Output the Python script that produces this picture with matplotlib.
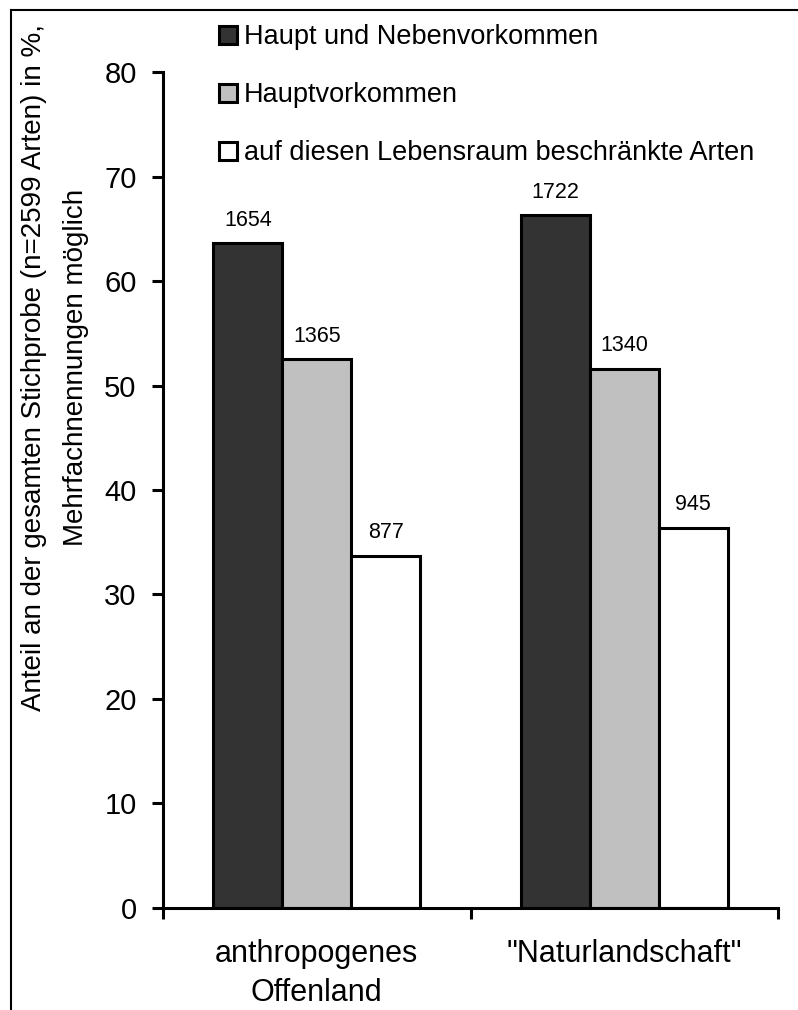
import matplotlib.pyplot as plt
import numpy as np
from matplotlib.lines import Line2D

plt.rcParams["font.family"] = ["Liberation Sans", "DejaVu Sans"]

categories = ["anthropogenes\nOffenland", '"Naturlandschaft"']
series_names = [
    "Haupt und Nebenvorkommen",
    "Hauptvorkommen",
    "auf diesen Lebensraum beschränkte Arten",
]
# percent of total sample (n=2599)
percent = [
    [63.6, 66.3],
    [52.5, 51.6],
    [33.7, 36.4],
]
counts = [
    [1654, 1722],
    [1365, 1340],
    [877, 945],
]
colors = ["#333333", "#c0c0c0", "#ffffff"]

fig = plt.figure(figsize=(7.98, 10.10), dpi=100)
ax = fig.add_axes([0.2043, 0.1010, 0.7706, 0.8277])

x = np.arange(len(categories)) + 0.5
width = 0.224
bars = []
for i, (vals, cnts) in enumerate(zip(percent, counts)):
    pos = x + (i - 1) * width
    b = ax.bar(pos, vals, width, color=colors[i], edgecolor="black",
               linewidth=2.2, label=series_names[i], zorder=2)
    bars.append(b)
    for xp, v, c in zip(pos, vals, cnts):
        ax.annotate(str(c), (xp, v), xytext=(0, 9), textcoords="offset points",
                    ha="center", va="bottom", fontsize=15.5)

ax.set_xlim(0, 2)
ax.set_ylim(0, 80)
ax.set_yticks(np.arange(0, 81, 10))
ax.set_xticks([0, 1, 2], minor=False)
ax.set_xticklabels([])
ax.set_xticks(x, minor=True)
ax.set_xticklabels(categories, minor=True, fontsize=22, linespacing=1.4)
ax.tick_params(axis="x", which="minor", length=0, pad=22)
ax.tick_params(axis="x", which="major", length=8, width=2.2, direction="out")
ax.tick_params(axis="y", length=8, width=2.2, direction="out", labelsize=21, pad=11)
for s in ["top", "right"]:
    ax.spines[s].set_visible(False)
for s in ["left", "bottom"]:
    ax.spines[s].set_linewidth(2.2)

fig.text(0.069, 0.636,
         "Anteil an der gesamten Stichprobe (n=2599 Arten) in %,\nMehrfachnennungen möglich",
         rotation=90, ha="center", va="center", multialignment="center",
         fontsize=20, linespacing=1.78)

ax.legend(handles=bars, loc="upper left", bbox_to_anchor=(0.274, 0.976),
          bbox_transform=fig.transFigure, frameon=False, fontsize=19.5,
          handlelength=0.66, handleheight=0.66, handletextpad=0.27,
          labelspacing=1.18, borderpad=0, borderaxespad=0)

# figure frame lines (top and left)
fig.add_artist(Line2D([0.0138, 1.0], [0.990, 0.990], color="black", lw=1.5,
                      transform=fig.transFigure))
fig.add_artist(Line2D([0.0138, 0.0138], [0.0, 0.990], color="black", lw=1.5,
                      transform=fig.transFigure))

fig.savefig("out.png", dpi=100)
